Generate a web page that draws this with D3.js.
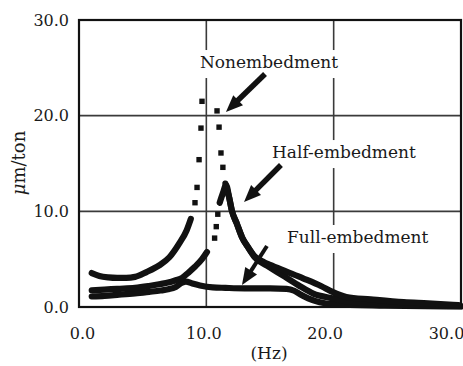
<!DOCTYPE html>
<html>
<head>
<meta charset="utf-8">
<script src="https://cdn.jsdelivr.net/npm/d3@7"></script>
<style>
  html, body { margin: 0; padding: 0; background: #fff; }
  svg { display: block; }
  text { font-family: "DejaVu Serif", "Liberation Serif", serif; fill: #1a1a1a; }
</style>
</head>
<body>
<svg id="chart" width="463" height="366"></svg>
<script>
// Axis ticks (Hz and μm/ton)
const freqTicks = [0, 10, 20, 30];
const ampTicks = [0, 10, 20, 30];

// Nonembedment: solid rise, sparse points around the resonance, solid tail
const nonRise = [[1.0, 3.55], [1.6, 3.25], [2.3, 3.1], [3.0, 3.05], [3.7, 3.05], [4.4, 3.15],
  [5.3, 3.65], [6.3, 4.35], [7.1, 5.2], [7.9, 6.7], [8.45, 8.0], [8.78, 9.2]];
const nonPeakPoints = [[9.11, 10.9], [9.27, 12.5], [9.43, 15.4], [9.58, 18.7], [9.66, 21.5],
  [10.84, 20.5], [11.0, 18.8], [11.15, 16.1], [11.3, 14.6]];
const nonTail = [[11.5, 12.9], [11.8, 11.4], [12.0, 10.1], [12.4, 8.7], [12.8, 7.3], [13.3, 6.2],
  [13.8, 5.3], [14.5, 4.7], [15.0, 4.4], [16.3, 3.7], [17.6, 3.0], [19.0, 2.2], [19.95, 1.55],
  [21.0, 1.05], [22.9, 0.8], [25.5, 0.5], [27.4, 0.38], [29.8, 0.2]];

// Half-embedment
const halfRise = [[1.0, 1.75], [2.0, 1.82], [3.0, 1.9], [4.4, 2.0], [5.5, 2.2], [6.4, 2.4],
  [7.0, 2.55], [7.6, 2.8], [8.1, 3.05], [8.6, 3.6], [9.1, 4.2], [9.66, 5.0], [10.05, 5.75]];
const halfPeakPoints = [[10.65, 7.2], [10.78, 8.4], [10.9, 9.7]];
const halfFall = [[11.05, 10.9], [11.3, 11.9], [11.55, 12.75], [11.8, 11.4], [12.0, 10.1],
  [12.4, 8.7], [12.8, 7.3], [13.3, 6.2], [13.8, 5.2], [14.8, 4.3], [16.0, 3.3], [17.2, 2.3],
  [18.4, 1.4], [19.95, 0.9], [21.0, 0.6], [23.0, 0.35], [26.0, 0.2], [30.0, 0.1]];

// Full-embedment
const fullCurve = [[1.0, 1.1], [2.0, 1.17], [3.0, 1.27], [4.4, 1.42], [5.5, 1.58], [6.4, 1.72],
  [7.0, 1.85], [7.6, 2.1], [8.1, 2.55], [8.4, 2.65], [8.9, 2.45], [9.5, 2.25], [10.5, 2.05],
  [11.5, 2.0], [13.0, 1.95], [15.0, 1.95], [16.3, 1.9], [16.9, 1.7], [17.4, 1.3], [18.0, 0.9],
  [18.9, 0.5], [20.0, 0.3], [24.0, 0.15], [30.0, 0.05]];

// Curve labels and their arrows (in Hz / μm/ton)
const labelNames = ["Nonembedment", "Half-embedment", "Full-embedment"];
const labelAt = [[9.5, 24.98], [15.16, 15.57], [16.34, 6.69]];
const arrowFrom = [[14.61, 24.36], [15.86, 14.84], [14.76, 6.38]];
const arrowTo = [[11.54, 20.38], [12.96, 10.98], [12.8, 2.3]];

const svg = d3.select("#chart");
const plotL = 79, plotR = 461, plotT = 20, plotB = 307;

const x = d3.scaleLinear().domain([0, 30]).range([plotL, plotR]);
const y = d3.scaleLinear().domain([0, 30]).range([plotB, plotT]);
// tick captions of the frequency axis sit slightly inside the frame
const xLabel = d3.scaleLinear().domain([0, 30]).range([82, 446]);

// grid lines
const grid = svg.append("g").attr("stroke", "#3a3a3a").attr("stroke-width", 1.6);
grid.selectAll("line.h").data(ampTicks.filter(d => d > 0 && d < 30)).join("line")
  .attr("class", "h")
  .attr("x1", plotL).attr("x2", plotR).attr("y1", d => y(d)).attr("y2", d => y(d));
grid.selectAll("line.v").data(freqTicks.filter(d => d > 0 && d < 30)).join("line")
  .attr("class", "v")
  .attr("x1", d => x(d)).attr("x2", d => x(d)).attr("y1", plotT).attr("y2", plotB);

// axes (labels only, the frame is drawn separately)
const yAxis = d3.axisLeft(y).tickValues(ampTicks).tickFormat(d3.format(".1f"))
  .tickSize(0).tickPadding(10);
const gy = svg.append("g").attr("transform", `translate(${plotL},0)`).call(yAxis);
gy.select(".domain").remove();
gy.attr("font-family", null).attr("font-size", null);
gy.selectAll("text").attr("font-size", 16).attr("fill", "#1a1a1a");

const xAxis = d3.axisBottom(xLabel).tickValues(freqTicks).tickFormat(d3.format(".1f"))
  .tickSize(0).tickPadding(20.5);
const gx = svg.append("g").attr("transform", `translate(0,${plotB})`).call(xAxis);
gx.select(".domain").remove();
gx.attr("font-family", null).attr("font-size", null);
gx.selectAll("text").attr("font-size", 16).attr("fill", "#1a1a1a");

// axis titles
svg.append("text").attr("x", 269).attr("y", 359).attr("text-anchor", "middle")
  .attr("font-size", 17).text("(Hz)");
const yt = svg.append("text").attr("transform", "translate(25,163) rotate(-90)")
  .attr("text-anchor", "middle").attr("font-size", 18);
yt.append("tspan").attr("font-style", "italic").text("μ");
yt.append("tspan").text("m/ton");

// curve labels on white boxes that interrupt the grid
const labels = svg.append("g");
labelNames.forEach((name, i) => {
  const tx = x(labelAt[i][0]), ty = y(labelAt[i][1]);
  const t = labels.append("text").attr("x", tx).attr("y", ty).attr("font-size", 17).text(name);
  const w = t.node().getComputedTextLength();
  labels.insert("rect", "text").attr("x", tx - 2).attr("y", ty - 18)
    .attr("width", w + 4).attr("height", 28).attr("fill", "#fff");
});

// frame
svg.append("rect").attr("x", plotL).attr("y", plotT).attr("width", plotR - plotL)
  .attr("height", plotB - plotT).attr("fill", "none").attr("stroke", "#111").attr("stroke-width", 2.2);

// curves
const line = d3.line().x(d => x(d[0])).y(d => y(d[1])).curve(d3.curveMonotoneX);
const curves = svg.append("g").attr("fill", "none").attr("stroke", "#111")
  .attr("stroke-width", 6.2).attr("stroke-linejoin", "round").attr("stroke-linecap", "round");
[fullCurve, halfRise, halfFall, nonRise, nonTail].forEach(s => curves.append("path").attr("d", line(s)));

// scattered points near the resonances
const dots = svg.append("g").attr("fill", "#111");
[...nonPeakPoints, ...halfPeakPoints].forEach(d => {
  dots.append("rect").attr("x", x(d[0]) - 2.7).attr("y", y(d[1]) - 2.7)
    .attr("width", 5.4).attr("height", 5.4);
});

// arrows
const arrows = svg.append("g");
arrowFrom.forEach((a, i) => {
  const x0 = x(a[0]), y0 = y(a[1]), x1 = x(arrowTo[i][0]), y1 = y(arrowTo[i][1]);
  const dx = x1 - x0, dy = y1 - y0, len = Math.hypot(dx, dy);
  const ux = dx / len, uy = dy / len, px = -uy, py = ux;
  const headL = 17, headW = 7;
  const bx = x1 - ux * headL, by = y1 - uy * headL;
  arrows.append("line").attr("x1", x0).attr("y1", y0).attr("x2", bx + ux * 2).attr("y2", by + uy * 2)
    .attr("stroke", "#111").attr("stroke-width", i === 2 ? 4 : 5.5);
  arrows.append("path")
    .attr("d", `M${x1},${y1}L${bx + px * headW},${by + py * headW}L${bx - px * headW},${by - py * headW}Z`)
    .attr("fill", "#111");
});
</script>
</body>
</html>
